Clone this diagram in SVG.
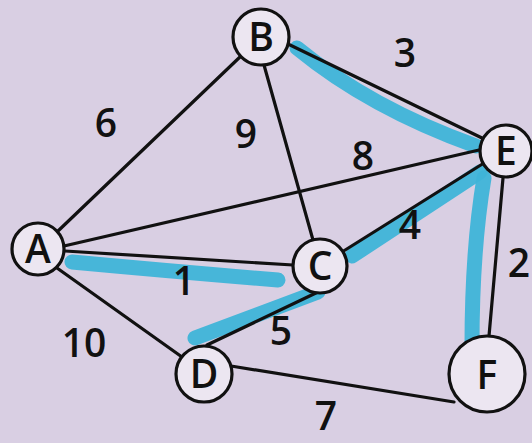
<svg xmlns="http://www.w3.org/2000/svg" width="532" height="443" viewBox="0 0 532 443">
<style>
.edge{stroke:#111;stroke-width:3.2;fill:none;stroke-linecap:round}
.hl{stroke:#3fb4d8;stroke-width:15;fill:none;stroke-linecap:round;opacity:0.95}
.node{fill:#ece6f1;stroke:#111;stroke-width:3.2}
.lbl{font-family:"Open Sans","Liberation Sans",sans-serif;font-size:39px;font-weight:600;fill:#111;text-anchor:middle}
.w{font-family:"Open Sans","Liberation Sans",sans-serif;font-size:39px;font-weight:600;fill:#111;text-anchor:middle}
</style>
<rect width="532" height="443" fill="#d9cfe3"/>
<g id="highlights">
<path class="hl" d="M297 48 Q370 108 476 146" stroke-width="18"/>
<path class="hl" d="M72 262 Q180 272 278 280"/>
<path class="hl" d="M352 256 L480 172"/>
<path class="hl" d="M195 338 L318 292"/>
<path class="hl" d="M484 178 Q472 250 472 346"/>
</g>
<g id="connectors">
<line class="edge" x1="58" y1="231" x2="241" y2="56"/>
<line class="edge" x1="264" y1="65" x2="313" y2="240"/>
<line class="edge" x1="288" y1="44" x2="482" y2="138"/>
<line class="edge" x1="64" y1="246" x2="479" y2="150"/>
<line class="edge" x1="65" y1="251" x2="293" y2="265"/>
<line class="edge" x1="57" y1="268" x2="182" y2="357"/>
<line class="edge" x1="342" y1="252" x2="484" y2="163"/>
<line class="edge" x1="318" y1="292" x2="207" y2="345"/>
<line class="edge" x1="231" y1="366" x2="454" y2="402"/>
<line class="edge" x1="503" y1="178" x2="489" y2="336"/>
</g>
<g id="node-B"><circle class="node" cx="261" cy="37" r="28"/><text class="lbl" x="261" y="51">B</text></g>
<g id="node-E"><circle class="node" cx="506" cy="151" r="26"/><text class="lbl" x="506" y="165">E</text></g>
<g id="node-A"><circle class="node" cx="38" cy="249" r="26"/><text class="lbl" x="38" y="263">A</text></g>
<g id="node-C"><circle class="node" cx="320" cy="266" r="27"/><text class="lbl" x="320" y="280">C</text></g>
<g id="node-D"><circle class="node" cx="204" cy="374" r="28"/><text class="lbl" x="204" y="388">D</text></g>
<g id="node-F"><circle class="node" cx="487" cy="374" r="38"/><text class="lbl" x="487" y="389">F</text></g>
<g id="weights">
<text class="w" x="106" y="137">6</text>
<text class="w" x="246" y="148">9</text>
<text class="w" x="405" y="67">3</text>
<text class="w" x="363" y="170">8</text>
<text class="w" x="410" y="239">4</text>
<text class="w" x="519" y="277">2</text>
<text class="w" x="184" y="295">1</text>
<text class="w" x="84" y="357">10</text>
<text class="w" x="281" y="345">5</text>
<text class="w" x="326" y="430">7</text>
</g>
</svg>
